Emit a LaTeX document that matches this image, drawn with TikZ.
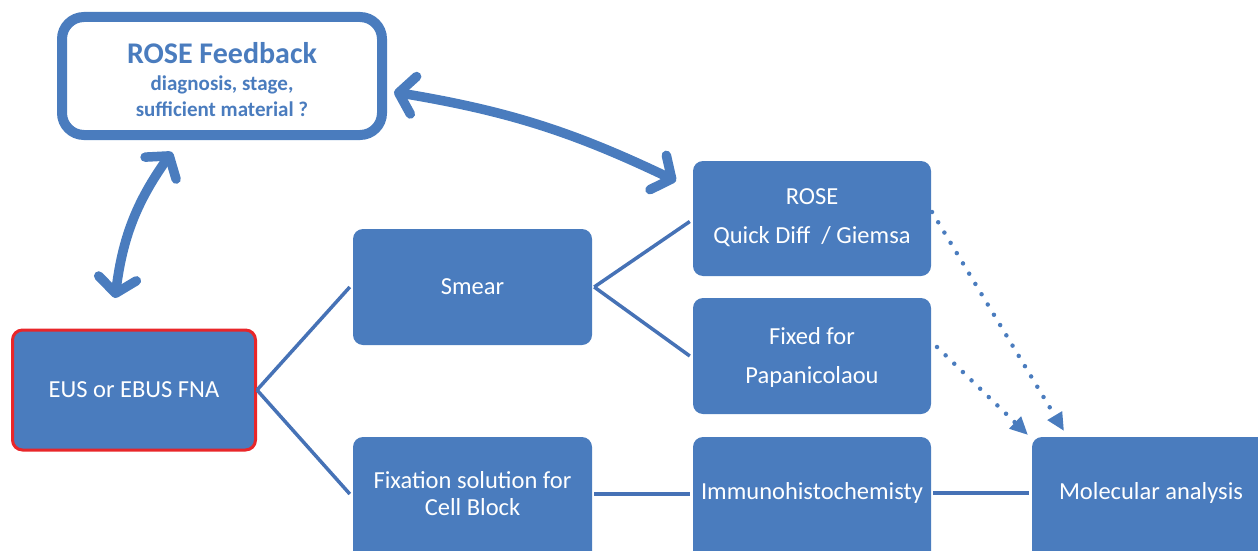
\documentclass[tikz,border=0pt]{standalone}
\usepackage{fontspec}
\setmainfont{Carlito}
\usetikzlibrary{arrows.meta}
\definecolor{bx}{HTML}{4A7CBE}
\definecolor{ln}{HTML}{4672B6}
\definecolor{rd}{HTML}{E8262A}
\tikzset{
  box/.style={fill=bx, draw=none, rounded corners=10pt, inner sep=0pt},
  txt/.style={text=white, align=center, font=\fontsize{24.5}{39}\selectfont},
  fbtxt/.style={text=bx, font=\bfseries\fontsize{21}{24}\selectfont, inner sep=0pt},
  conn/.style={draw=ln, line width=3.5pt},
  dbl/.style={draw=bx, line width=9.5pt, line cap=round,
     {Straight Barb[length=15pt,width=38pt,round]}-{Straight Barb[length=15pt,width=38pt,round]}},
  dots/.style={draw=bx, line width=4.5pt, line cap=round, dash pattern=on 0pt off 12pt,
     -{Triangle[length=18pt,width=16pt]}}
}
\begin{document}
\begin{tikzpicture}[x=1pt,y=-1pt]
\useasboundingbox (0,0) rectangle (1258,551);
% feedback box
\node[draw=bx, line width=10pt, rounded corners=22pt, fill=white, minimum width=320pt, minimum height=118pt, inner sep=0pt] (fb) at (222,76) {};
\node[fbtxt, font=\bfseries\fontsize{30}{32}\selectfont] (fbt1) at (222,53) {ROSE Feedback};
\node[fbtxt] (fbt2) at (222,85) {diagnosis, stage,};
\node[fbtxt] (fbt3) at (222,109) {sufficient material ?};
% boxes
\node[box, draw=rd, line width=3pt, minimum width=243pt, minimum height=120pt] (eus) at (134,390) {};
\node[txt] (eust) at (134,390) {EUS or EBUS FNA};
\node[box, minimum width=239pt, minimum height=116pt] (smear) at (472.5,287) {};
\node[txt] (smeart) at (472.5,287) {Smear};
\node[box, minimum width=238pt, minimum height=115pt] (rose) at (812,218.5) {};
\node[txt] (roset) at (812,218) {ROSE\\Quick Diff~ / Giemsa};
\node[box, minimum width=238pt, minimum height=116pt] (fixed) at (812,356) {};
\node[txt] (fixedt) at (812,357) {Fixed for\\Papanicolaou};
\node[box, minimum width=239pt, minimum height=140pt] (fixs) at (472.5,507) {};
\node[txt, font=\fontsize{24.5}{27}\selectfont] (fixst) at (472.5,494) {Fixation solution for\\Cell Block};
\node[box, minimum width=238pt, minimum height=140pt] (imm) at (812,507) {};
\node[txt] (immt) at (812,493) {Immunohistochemisty};
\node[box, minimum width=240pt, minimum height=140pt] (mol) at (1152,507) {};
\node[txt] (molt) at (1151,493) {Molecular analysis};
% connectors
\draw[conn] (eus.east) -- ([xshift=-3pt]smear.west);
\draw[conn] (eus.east) -- ([xshift=-3pt]smear.west |- fixst);
\draw[conn] ([xshift=2pt]smear.east) -- ([xshift=-3pt,yshift=-3pt]rose.west);
\draw[conn] ([xshift=2pt]smear.east) -- ([xshift=-3pt]rose.west |- fixed);
\draw[conn] ([xshift=2pt]fixs.east |- fixst) -- ([xshift=-3pt]imm.west |- fixst);
\draw[conn] ([xshift=2pt]imm.east |- immt) -- ([xshift=-3pt]mol.west |- immt);
% double arrows
\coordinate (a1) at (115,298);
\coordinate (a2) at (172,152);
\coordinate (b1) at (394,92);
\coordinate (b2) at (676,181);
\draw[dbl] (a1) to[bend left=14] (a2);
\draw[dbl] (b1) to[bend left=8] (b2);
% dotted arrows
\coordinate (d1) at (932,212);
\coordinate (d2) at (1064,431);
\coordinate (e1) at (937,347);
\coordinate (e2) at (1028,435);
\draw[dots] (d1) -- (d2);
\draw[dots] (e1) -- (e2);
\end{tikzpicture}
\end{document}
